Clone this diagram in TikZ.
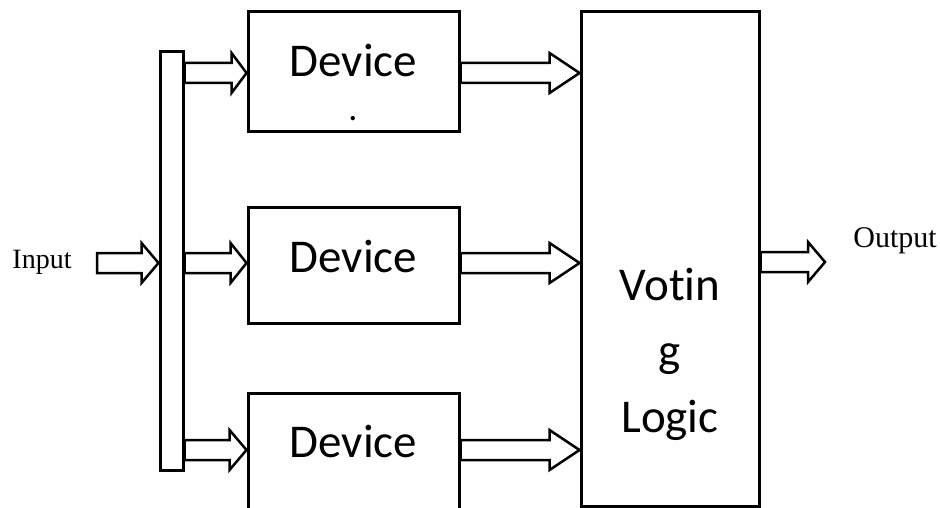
\documentclass[tikz,border=0pt]{standalone}
\usepackage{fontspec}
\setmainfont{Liberation Serif}
\newfontfamily\boxfont[Ligatures={NoCommon}]{Carlito}
\usetikzlibrary{calc}

\tikzset{
  boxline/.style={draw=black, line width=3pt},
  devbox/.style={boxline, minimum width=211pt, inner sep=0pt},
  devlabel/.style={font=\boxfont\fontsize{47}{57}\selectfont, inner sep=0pt, anchor=base},
  sidelabel/.style={font=\fontsize{28}{32}\selectfont, inner sep=0pt},
  fat/.style={draw=black, fill=white, line width=2.5pt, line join=miter},
}

% hollow block arrow from #1 to #2 (same height), head length #3
\newcommand\fatarrow[3]{%
  \path[fat] let \p1=#1, \p2=#2 in
    (\x1,\y1+10pt) -- (\x2-#3,\y1+10pt) -- (\x2-#3,\y1+20pt) -- (\x2,\y1)
    -- (\x2-#3,\y1-20pt) -- (\x2-#3,\y1-10pt) -- (\x1,\y1-10pt) -- cycle;}

\begin{document}
\begin{tikzpicture}[x=1pt, y=-1pt]
\useasboundingbox (0,0) rectangle (940,508);

% distribution bar
\node[boxline, minimum width=23pt, minimum height=418pt, inner sep=0pt] (bus) at (171.5,261) {};

% three redundant devices
\node[devbox, minimum height=120pt] (d1) at (353.5,72) {};
\node[devbox, minimum height=116pt] (d2) at (353.5,265) {};
\node[devbox, minimum height=116pt] (d3) at (353.5,451) {};
\node[devlabel] (d1l) at (353.5,77) {Device};
\node[devlabel] (d2l) at (353.5,272) {Device};
\node[devlabel] (d3l) at (353.5,457) {Device};
\node[font=\boxfont\fontsize{36}{40}\selectfont, inner sep=0pt, anchor=base] (d1dot) at (353,121) {.};

% voter
\node[boxline, minimum width=178pt, minimum height=494pt, inner sep=0pt] (vote) at (670,259) {};
\node[font=\boxfont\fontsize{47}{66}\selectfont, align=center, inner sep=0pt] (votel) at (670,354) {Votin\\g\\Logic};

% input and output
\node[sidelabel] (in) at (42,262) {Input};
\coordinate (inStart) at (97,263);
\node[sidelabel, font=\fontsize{30}{34}\selectfont] (out) at (895,241) {Output};
\coordinate (outTip) at (825,262);

\fatarrow{(inStart)}{(inStart -| bus.west)}{17pt}
\fatarrow{(vote.east |- outTip)}{(outTip)}{17pt}

\fatarrow{($(bus.east |- d1)+(0,1)$)}{($(d1.west)+(0,1)$)}{15pt}
\fatarrow{($(bus.east |- d2)+(0,-2)$)}{($(d2.west)+(0,-2)$)}{16pt}
\fatarrow{($(bus.east |- d3)+(0,-1)$)}{($(d3.west)+(0,-1)$)}{17pt}

\fatarrow{($(d1.east)+(0,1)$)}{($(d1.east -| vote.west)+(0,1)$)}{30pt}
\fatarrow{($(d2.east)+(0,-2)$)}{($(d2.east -| vote.west)+(0,-2)$)}{30pt}
\fatarrow{($(d3.east)+(0,-1)$)}{($(d3.east -| vote.west)+(0,-1)$)}{30pt}
\end{tikzpicture}
\end{document}
